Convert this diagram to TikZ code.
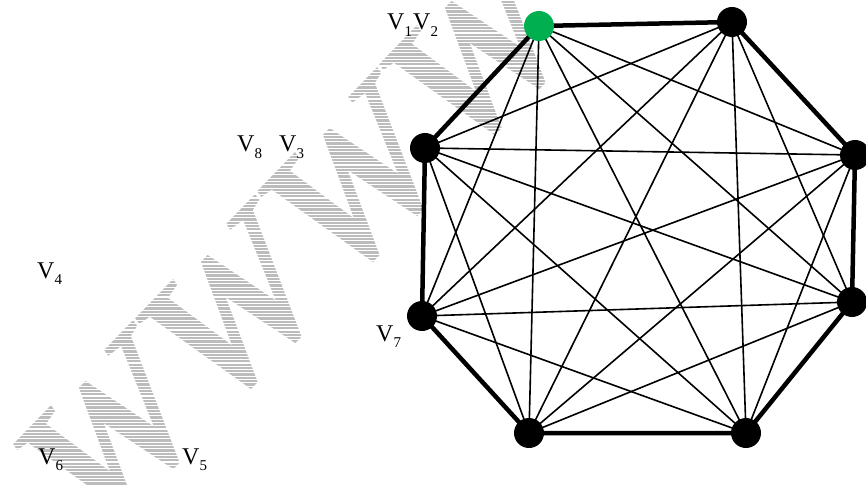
\documentclass[tikz,border=0pt]{standalone}
\usepackage{fontspec}
\setmainfont{Liberation Serif}
\pgfdeclarelayer{bg}
\pgfsetlayers{bg,main}
\definecolor{wmgray}{RGB}{188,188,188}
\definecolor{vgreen}{RGB}{0,176,80}
\newcommand\Vsub[1]{V\raisebox{-6.5pt}{\fontsize{15}{15}\selectfont #1}}
\begin{document}
\begin{tikzpicture}[x=1pt,y=-1pt,
  vtx/.style={circle,fill=black,minimum size=30pt,inner sep=0pt},
  rim/.style={line width=4.5pt,line join=round},
  chord/.style={line width=1.6pt},
  lab/.style={anchor=base west,inner sep=0pt,font=\fontsize{24}{24}\selectfont},
  wmark/.style={rotate=46,anchor=base west,inner sep=0pt,text=wmgray,
     font=\fontsize{198}{198}\selectfont\bfseries\itshape},
  hatch/.style={white,line width=1.15pt}]
\useasboundingbox (0,0) rectangle (866,486);
% vertices
\node[vtx,fill=vgreen] (n1) at (539,26) {};
\node[vtx] (n2) at (732,22) {};
\node[vtx] (n3) at (855,155) {};
\node[vtx] (n4) at (852,302) {};
\node[vtx] (n5) at (746,433) {};
\node[vtx] (n6) at (529,433) {};
\node[vtx] (n7) at (422,316) {};
\node[vtx] (n8) at (425,148) {};
\begin{pgfonlayer}{bg}
  \begin{scope}
  \clip (0,0) rectangle (866,486);
  % watermark
  \node[wmark] (wm) at (96,546) {WWWW};
  \foreach \yy in {0,3.3,...,490}{
    \draw[hatch] (0,\yy) -- (700,\yy);
  }
  \end{scope}
  % chords
  \foreach \i in {1,...,7}{
    \pgfmathtruncatemacro\s{\i+1}
    \foreach \j in {\s,...,8}{
      \draw[chord] (n\i.center) -- (n\j.center);
    }
  }
  \draw[rim] (n1.center) -- (n2.center) -- (n3.center) -- (n4.center) -- (n5.center)
     -- (n6.center) -- (n7.center) -- (n8.center) -- cycle;
\end{pgfonlayer}
% labels
\node[lab] (l1) at (387,30) {\Vsub{1}};
\node[lab] (l2) at (413,30) {\Vsub{2}};
\node[lab] (l8) at (237,152) {\Vsub{8}};
\node[lab] (l3) at (279,152) {\Vsub{3}};
\node[lab] (l4) at (37,278) {\Vsub{4}};
\node[lab] (l7) at (376,341) {\Vsub{7}};
\node[lab] (l6) at (38,464) {\Vsub{6}};
\node[lab] (l5) at (182,464) {\Vsub{5}};
\end{tikzpicture}
\end{document}
